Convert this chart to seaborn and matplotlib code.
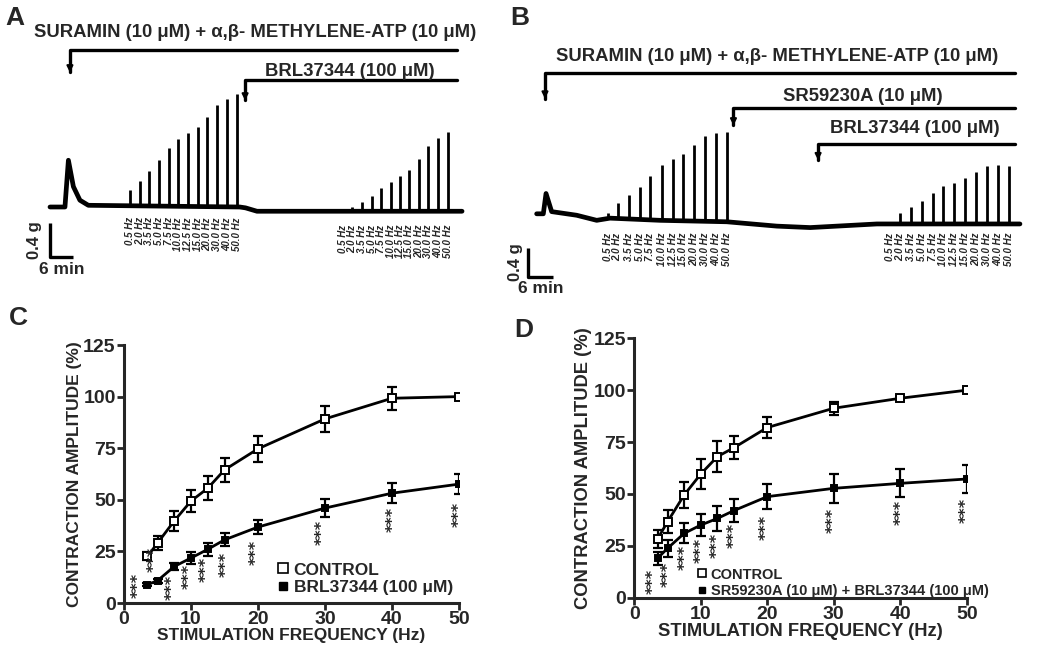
import numpy as np
import pandas as pd
import matplotlib
matplotlib.use('Agg')
import matplotlib.pyplot as plt
import seaborn as sns
from matplotlib.lines import Line2D

sns.set_style("ticks")
plt.rcParams['font.family'] = ['Liberation Sans', 'DejaVu Sans']
plt.rcParams['font.weight'] = 'bold'
plt.rcParams['axes.labelweight'] = 'bold'

# ---- data ----
freq_labels = ['0.5 Hz', '2.0 Hz', '3.5 Hz', '5.0 Hz', '7.5 Hz', '10.0 Hz',
               '12.5 Hz', '15.0 Hz', '20.0 Hz', '30.0 Hz', '40.0 Hz', '50.0 Hz']

# panel A trace (time in min, force in g)
a_base_t = [0, 3.9, 4.8, 6.1, 7.8, 10, 49.5, 51, 54, 107.5]
a_base_g = [0, 0.0, 0.55, 0.24, 0.08, 0.02, 0.0, -0.01, -0.05, -0.05]
a_stim1_t = [20.9, 23.5, 25.9, 28.4, 31.0, 33.5, 35.9, 38.5, 41.0, 43.6, 46.1, 48.7]
a_stim1_g = [0.20, 0.31, 0.42, 0.55, 0.69, 0.80, 0.87, 0.94, 1.06, 1.20, 1.27, 1.33]
a_stim2_t = [76.4, 78.8, 81.3, 83.9, 86.4, 88.9, 91.3, 93.7, 96.3, 98.7, 101.3, 103.9]
a_stim2_g = [-0.05, 0.0, 0.06, 0.13, 0.22, 0.29, 0.37, 0.44, 0.56, 0.72, 0.81, 0.88]
a_drug_names = ['SURAMIN (10 μM) + α,β- METHYLENE-ATP (10 μM)', 'BRL37344 (100 μM)']
a_drug_t = [5.2, 50.9]

# panel B trace
b_base_t = [2.0, 3.6, 4.25, 5.6, 11.6, 16.4, 19.6, 31.6, 47.6, 59.6, 67.6, 83.6, 117.9]
b_base_g = [0.04, 0.04, 0.32, 0.07, 0.02, -0.05, -0.02, -0.05, -0.07, -0.13, -0.15, -0.10, -0.10]
b_stim1_t = [19.2, 21.4, 24.1, 26.8, 29.3, 32.0, 34.6, 37.2, 39.7, 42.4, 45.0, 47.6]
b_stim1_g = [0.05, 0.19, 0.30, 0.41, 0.56, 0.71, 0.79, 0.87, 0.99, 1.12, 1.16, 1.17]
b_stim2_t = [86.7, 89.1, 91.7, 94.3, 97.0, 99.5, 102.2, 104.7, 107.3, 109.9, 112.6, 115.3]
b_stim2_g = [-0.08, 0.05, 0.13, 0.21, 0.33, 0.42, 0.47, 0.54, 0.62, 0.70, 0.72, 0.70]
b_drug_names = ['SURAMIN (10 μM) + α,β- METHYLENE-ATP (10 μM)', 'SR59230A (10 μM)', 'BRL37344 (100 μM)']
b_drug_t = [4.0, 49.2, 69.5]

# panels C and D (% of control at 50 Hz)
freq_hz = [3.5, 5, 7.5, 10, 12.5, 15, 20, 30, 40, 50]
c_control = [22.6, 29.0, 39.8, 49.4, 55.6, 64.5, 74.7, 89.2, 99.2, 100]
c_control_sem = [2.0, 3.5, 4.7, 5.3, 5.9, 5.9, 6.3, 6.4, 5.5, 1.0]
c_brl = [8.9, 10.8, 17.7, 21.8, 26.0, 30.6, 36.8, 46.0, 53.2, 57.6]
c_brl_sem = [0.8, 1.0, 1.8, 2.8, 3.0, 3.2, 3.6, 4.2, 4.8, 4.8]
c_star_x = [2.1, 4.5, 7.2, 9.8, 12.3, 15.2, 19.8, 29.6, 40.2, 50]
c_star_y = [8.4, 21.0, 7.7, 12.9, 16.1, 18.9, 24.5, 34.4, 40.3, 42.7]

d_control = [28.3, 36.6, 49.5, 59.6, 68.0, 72.3, 82.0, 91.3, 96.1, 100]
d_control_sem = [4.4, 5.6, 6.4, 7.2, 7.3, 5.6, 5.2, 3.2, 1.0, 1.0]
d_sr_brl = [19.0, 23.8, 31.0, 35.0, 38.2, 42.0, 48.7, 52.7, 55.1, 57.2]
d_sr_brl_sem = [3.2, 4.0, 4.8, 5.5, 6.0, 5.6, 6.0, 6.9, 6.8, 6.8]
d_star_x = [2.9, 5.1, 7.6, 10.0, 12.5, 15.1, 19.9, 29.9, 40.1, 50]
d_star_y = [7.7, 11.4, 19.4, 23.0, 25.4, 29.9, 33.9, 37.1, 41.1, 41.9]

W, H = 1050, 652
fig = plt.figure(figsize=(W / 100, H / 100), dpi=100)


def px_axes(left, top, right, bottom):
    return fig.add_axes([left / W, 1 - bottom / H, (right - left) / W, (bottom - top) / H])


def draw_trace(ax, base_t, base_g, groups, lbl_top):
    sns.lineplot(x=base_t, y=base_g, ax=ax, color='black', lw=3.4,
                 estimator=None, sort=False)
    for (st, sg), top in zip(groups, lbl_top):
        b = np.interp(st, base_t, base_g)
        ax.vlines(st, b, sg, color='black', lw=2.0)
        for t, lab in zip(st, freq_labels):
            ax.text(t, top, lab, rotation=90, ha='center', va='top',
                    fontsize=7, style='italic', fontweight='bold')


def scale_bar(ax, y0, ytxt_x):
    ax.plot([0, 0, 6], [y0 + 0.4, y0, y0], color='black', lw=2.4,
            solid_capstyle='butt')
    ax.text(ytxt_x, y0 + 0.2, '0.4 g', rotation=90, ha='center', va='center', fontsize=12)
    ax.text(3.0, y0 - 0.06, '6 min', ha='center', va='top', fontsize=12.5)


def drug_bar(ax, t0, t1, ybar, ytip, label, xtxt, ytxt):
    ax.plot([t0, t0, t1], [ytip, ybar, ybar], color='black', lw=2.4)
    ax.annotate('', xy=(t0, ytip - 0.04), xytext=(t0, ytip + 0.08),
                arrowprops=dict(arrowstyle='-|>', color='black', lw=1.5,
                                mutation_scale=9))
    ax.text(xtxt, ytxt, label, ha='center', va='center', fontsize=13.3)


# ---- panel A ----
axA = px_axes(20, 20, 480, 285)
draw_trace(axA, a_base_t, a_base_g,
           [(np.array(a_stim1_t), a_stim1_g), (np.array(a_stim2_t), a_stim2_g)],
           [-0.12, -0.21])
axA.set_xlim((20 - 50) / 3.833, (480 - 50) / 3.833)
axA.set_ylim((207 - 285) / 85, (207 - 20) / 85)
scale_bar(axA, -0.59, -4.0)
drug_bar(axA, a_drug_t[0], 106.2, 1.85, 1.59, a_drug_names[0], 53.5, 2.05)
drug_bar(axA, a_drug_t[1], 106.2, 1.49, 1.26, a_drug_names[1], 78.3, 1.6)
axA.axis('off')

# ---- panel B ----
axB = px_axes(505, 40, 1040, 305)
draw_trace(axB, b_base_t, b_base_g,
           [(np.array(b_stim1_t), b_stim1_g), (np.array(b_stim2_t), b_stim2_g)],
           [-0.22, -0.22])
axB.set_xlim((505 - 528.3) / 4.17, (1040 - 528.3) / 4.17)
axB.set_ylim((216.7 - 305) / 72.5, (216.7 - 40) / 72.5)
scale_bar(axB, -0.83, -3.0)
drug_bar(axB, b_drug_t[0], 116.7, 1.98, 1.63, b_drug_names[0], 59.6, 2.21)
drug_bar(axB, b_drug_t[1], 116.7, 1.50, 1.26, b_drug_names[1], 80.3, 1.66)
drug_bar(axB, b_drug_t[2], 116.7, 1.00, 0.78, b_drug_names[2], 92.7, 1.22)
axB.axis('off')


# ---- panels C, D ----
def freq_panel(ax, ctrl, ctrl_sem, treat, treat_sem, star_x, star_y, labels,
               leg_anchor, leg_size, lab_size):
    df = pd.DataFrame({'freq': freq_hz * 2,
                       'amp': ctrl + treat,
                       'group': ['ctrl'] * len(ctrl) + ['treat'] * len(treat)})
    for vals, sem in [(ctrl, ctrl_sem), (treat, treat_sem)]:
        ax.errorbar(freq_hz, vals, yerr=sem, fmt='none', ecolor='black',
                    elinewidth=1.6, capsize=3.6, capthick=1.6, zorder=2)
    sns.lineplot(data=df, x='freq', y='amp', hue='group', style='group',
                 palette={'ctrl': 'black', 'treat': 'black'},
                 markers={'ctrl': 's', 'treat': 's'}, dashes=False,
                 lw=2.0, ax=ax, legend=False, zorder=3)
    lines = [ln for ln in ax.get_lines() if ln.get_marker() == 's']
    ctrl_line, treat_line = lines[-2], lines[-1]
    for ln in (ctrl_line, treat_line):
        ln.set_markeredgecolor('black')
        ln.set_markeredgewidth(1.4)
    ctrl_line.set_markerfacecolor('white')
    ctrl_line.set_markersize(5.6)
    treat_line.set_markerfacecolor('black')
    treat_line.set_markersize(4.6)
    for x, y in zip(star_x, star_y):
        ax.text(x, y, '***', rotation=90, ha='center', va='center', fontsize=11.5,
                family='DejaVu Sans')
    ax.set_xlim(0, 50)
    ax.set_ylim(0, 125)
    ax.set_xticks([0, 10, 20, 30, 40, 50])
    ax.set_yticks([0, 25, 50, 75, 100, 125])
    sns.despine(ax=ax)
    for s in ['left', 'bottom']:
        ax.spines[s].set_linewidth(2.2)
        ax.spines[s].set_zorder(5)
    ax.tick_params(width=2.0, length=5, labelsize=14, pad=1)
    for t in ax.get_xticklabels() + ax.get_yticklabels():
        t.set_fontweight('bold')
    ax.set_xlabel('STIMULATION FREQUENCY (Hz)', fontsize=lab_size, labelpad=0)
    ax.set_ylabel('CONTRACTION AMPLITUDE (%)', fontsize=lab_size, labelpad=1)
    handles = [Line2D([], [], ls='none', marker='s', mfc='white', mec='black',
                      mew=1.2, ms=leg_size * 0.55),
               Line2D([], [], ls='none', marker='s', mfc='black', mec='black',
                      ms=leg_size * 0.45)]
    ax.legend(handles, labels, loc='lower left', bbox_to_anchor=leg_anchor,
              frameon=False, handlelength=0.6,
              handletextpad=0.3, labelspacing=0.15, borderpad=0,
              borderaxespad=0, prop={'weight': 'bold', 'size': leg_size})


axC = px_axes(124, 345, 459, 603)
freq_panel(axC, c_control, c_control_sem, c_brl, c_brl_sem, c_star_x, c_star_y,
           ['CONTROL', 'BRL37344 (100 μM)'], (0.46, 0.03), 12.5, 12.5)

axD = px_axes(634.3, 338.3, 966.7, 597.7)
freq_panel(axD, d_control, d_control_sem, d_sr_brl, d_sr_brl_sem, d_star_x, d_star_y,
           ['CONTROL', 'SR59230A (10 μM) + BRL37344 (100 μM)'], (0.19, 0.0), 10.5, 13.2)

# panel letters
for lab, x, y in [('A', 15, 18), ('B', 520, 18), ('C', 18, 318), ('D', 524, 330)]:
    fig.text(x / W, 1 - y / H, lab, fontsize=19, fontweight='bold', ha='center', va='center')

fig.savefig('out.png', dpi=100)
